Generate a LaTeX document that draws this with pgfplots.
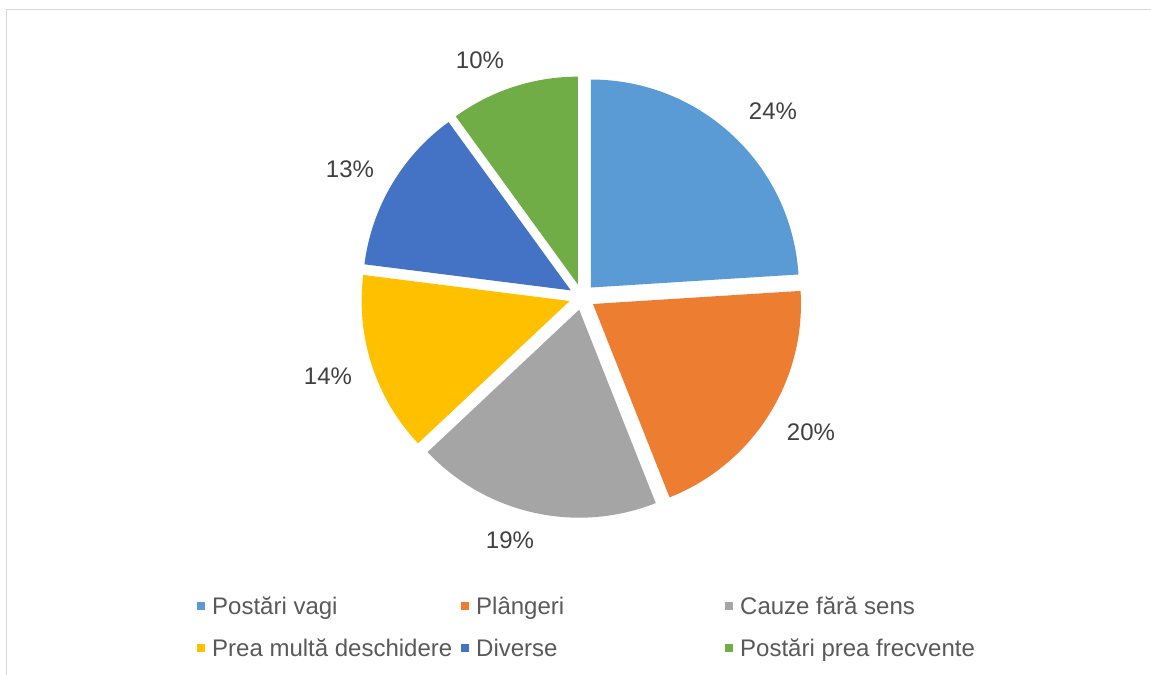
\documentclass[border=0pt]{standalone}
\usepackage{pgfplots}
\pgfplotsset{compat=1.18}
\usepackage{pgfplotstable}
\usepackage{fontspec}
\setmainfont{Liberation Sans}
\definecolor{cBlue}{HTML}{5B9BD5}
\definecolor{cOrange}{HTML}{ED7D31}
\definecolor{cGray}{HTML}{A5A5A5}
\definecolor{cYellow}{HTML}{FFC000}
\definecolor{cDark}{HTML}{4472C4}
\definecolor{cGreen}{HTML}{70AD47}
\definecolor{labelgray}{HTML}{404040}
\definecolor{legendgray}{HTML}{595959}
\definecolor{framegray}{HTML}{D9D9D9}
\newcommand\pielabelfont{\fontsize{24bp}{28bp}\selectfont}

% label, share (%), colour, position of the percentage label (pixels from top-left)
\pgfplotstableread[col sep=comma]{
label,value,color,lx,ly
Postări vagi,24,cBlue,773,111
Plângeri,20,cOrange,811,432
Cauze fără sens,19,cGray,510,540
Prea multă deschidere,14,cYellow,328,376
Diverse,13,cDark,350,169
Postări prea frecvente,10,cGreen,480,60
}\piedata

\begin{document}
\begin{tikzpicture}
\useasboundingbox (0,0) rectangle (1151bp,675bp);
\begin{axis}[at={(0,0)},anchor=south west,
  x=1bp,y=1bp,xmin=0,xmax=1151,ymin=0,ymax=675,
  hide axis,clip=false]
\draw[framegray,line width=1.5bp] (axis cs:6.5,0) -- (axis cs:6.5,665.5) -- (axis cs:1151,665.5);
\def\cum{0}
\pgfplotsforeachungrouped \i in {0,...,5}{%
  \pgfplotstablegetelem{\i}{value}\of\piedata \let\val\pgfplotsretval
  \pgfplotstablegetelem{\i}{color}\of\piedata \let\col\pgfplotsretval
  \pgfplotstablegetelem{\i}{lx}\of\piedata \let\lx\pgfplotsretval
  \pgfplotstablegetelem{\i}{ly}\of\piedata \let\ly\pgfplotsretval
  \pgfplotstablegetelem{\i}{label}\of\piedata \let\lab\pgfplotsretval
  \pgfmathsetmacro\sa{90-3.6*\cum}%
  \pgfmathsetmacro\ea{90-3.6*(\cum+\val)}%
  \pgfmathsetmacro\ma{(\sa+\ea)/2}%
  \pgfmathsetmacro\cx{582+13*cos(\ma)}%
  \pgfmathsetmacro\cy{378+13*sin(\ma)}%
  \pgfmathsetmacro\Ly{675-\ly}%
  \pgfmathtruncatemacro\row{\i/3}%
  \pgfmathtruncatemacro\colm{mod(\i,3)}%
  \pgfmathsetmacro\gx{201+264*\colm}%
  \pgfmathsetmacro\tx{212+264*\colm}%
  \pgfmathsetmacro\gy{675-606-42*\row}%
  \pgfmathsetmacro\by{675-614.5-42*\row}%
  \edef\temp{%
    \noexpand\fill[\col] (axis cs:\cx,\cy) -- ++(\sa:208bp) arc[start angle=\sa,end angle=\ea,radius=208bp] -- cycle;
    \noexpand\node[text=labelgray,font=\noexpand\pielabelfont,inner sep=0pt] at (axis cs:\lx,\Ly) {\val\noexpand\%};
    \noexpand\fill[\col] (axis cs:\gx,\gy) ++(-3.75bp,-3.75bp) rectangle ++(7.5bp,7.5bp);
    \noexpand\node[anchor=base west,text=legendgray,font=\noexpand\pielabelfont,inner sep=0pt] at (axis cs:\tx,\by) {\lab};
  }\temp
  \pgfmathsetmacro\cum{\cum+\val}%
}
\end{axis}
\end{tikzpicture}
\end{document}
